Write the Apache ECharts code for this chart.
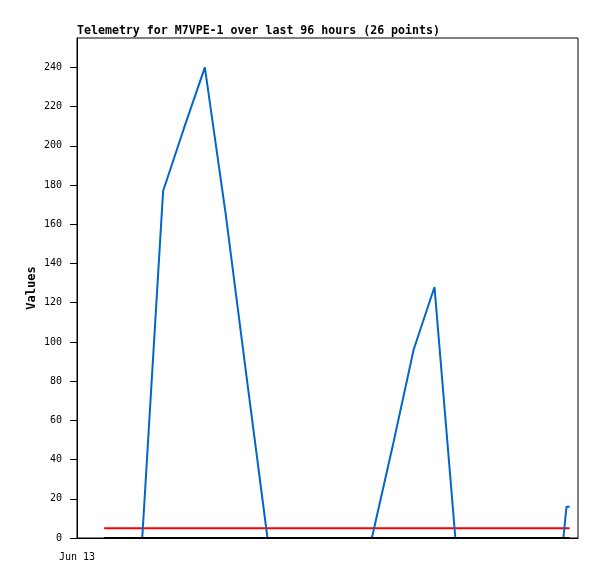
<!DOCTYPE html>
<html><head><meta charset="utf-8">
<script src="https://cdn.jsdelivr.net/npm/echarts@6/dist/echarts.min.js"></script>
<style>html,body{margin:0;padding:0;background:#fff}#c{width:597px;height:579px}</style>
</head><body><div id="c"></div>
<script>
// hours since Jun 13 00:00
const hours = [5.2, 8.5, 12.5, 16.5, 20.5, 24.5, 28.5, 32.5, 36.5, 40.5, 44.5, 48.5, 52.5, 56.5, 60.5, 64.5, 68.5, 72.5, 76.5, 80.5, 84.5, 88.5, 92.5, 93.2, 93.8, 94.4];
const values = [0, 0, 0, 177, 209, 240, 165, 82, 0, 0, 0, 0, 0, 0, 47, 96, 128, 0, 0, 0, 0, 0, 0, 0, 16, 16];
const thresholdHigh = 5;
const thresholdLow = 0;
const yTicks = [0, 20, 40, 60, 80, 100, 120, 140, 160, 180, 200, 220, 240];
const xLabel = 'Jun 13';

const mono = 'DejaVu Sans Mono';
const first = hours[0], last = hours[hours.length - 1];
const chart = echarts.init(document.getElementById('c'));
chart.setOption({
  backgroundColor: '#fff',
  animation: false,
  title: {
    text: 'Telemetry for M7VPE-1 over last 96 hours (26 points)',
    left: 77, top: 25, padding: 0,
    textStyle: { fontFamily: mono, fontWeight: 'bold', fontSize: 11.6, color: '#000' }
  },
  grid: { left: 77, top: 38, right: 19, bottom: 41, show: true, borderColor: '#000', borderWidth: 1, backgroundColor: '#fff' },
  xAxis: {
    type: 'value', min: 0, max: 96, interval: 96,
    axisLine: { show: true, lineStyle: { color: '#000', width: 1 } },
    axisTick: { show: false },
    splitLine: { show: false },
    axisLabel: {
      formatter: v => v === 0 ? xLabel : '',
      fontFamily: mono, fontSize: 10, color: '#000', margin: 14
    }
  },
  yAxis: {
    type: 'value', min: 0, max: 255,
    name: 'Values', nameLocation: 'middle', nameGap: 39, nameRotate: 90, nameMoveOverlap: false,
    nameTextStyle: { fontFamily: mono, fontWeight: 'bold', fontSize: 12, color: '#000' },
    axisLine: { show: true, lineStyle: { color: '#000', width: 1 } },
    axisTick: { show: true, length: 7, lineStyle: { color: '#000' }, customValues: yTicks },
    splitLine: { show: false },
    axisLabel: { fontFamily: mono, fontSize: 10, color: '#000', margin: 15, customValues: yTicks }
  },
  series: [
    { type: 'line', data: [[first, thresholdHigh], [last, thresholdHigh]], symbol: 'none', lineStyle: { color: '#ff0000', width: 2 }, z: 2 },
    { type: 'line', data: hours.map((h, i) => [h, values[i]]), symbol: 'none', lineStyle: { color: '#0066cc', width: 2 }, z: 3 },
    { type: 'line', data: [[first, thresholdLow], [last, thresholdLow]], symbol: 'none', lineStyle: { color: '#000', width: 2 }, z: 4 }
  ]
});
</script></body></html>
